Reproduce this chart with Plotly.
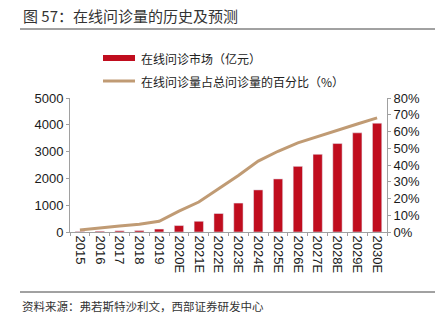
import plotly.graph_objects as go

categories = ["2015", "2016", "2017", "2018", "2019", "2020E", "2021E", "2022E",
              "2023E", "2024E", "2025E", "2026E", "2027E", "2028E", "2029E", "2030E"]
market_size = [20, 30, 45, 55, 110, 240, 400, 690, 1080, 1570, 1980, 2450, 2900, 3300, 3700, 4060]
online_share = [1.2, 2.6, 3.6, 4.6, 6.4, 12.5, 17.9, 25.8, 33.7, 42.3, 48.2, 53.2, 57.1, 60.7, 64.5, 68.1]
left_ticks = [0, 1000, 2000, 3000, 4000, 5000]
right_ticks = [0, 10, 20, 30, 40, 50, 60, 70, 80]
right_labels = [f"{v}%" for v in right_ticks]

bar_name = "在线问诊市场（亿元）"
line_name = "在线问诊量占总问诊量的百分比（%）"
title_text = "图 57：在线问诊量的历史及预测"
source_text = "资料来源：弗若斯特沙利文，西部证券研发中心"

RED = "#C00D1E"
TAN = "#C09B74"
AXIS = "#A0A0A0"
CJK = "Noto Sans CJK SC"
LAT = "Liberation Sans, Arial"

fig = go.Figure()
fig.add_trace(go.Bar(x=categories, y=market_size, name=bar_name, marker_color=RED,
                     width=0.47, yaxis="y", showlegend=False))
fig.add_trace(go.Scatter(x=categories, y=online_share, name=line_name, mode="lines",
                         line=dict(color=TAN, width=3), yaxis="y2", showlegend=False))

fig.update_layout(
    width=440, height=326,
    margin=dict(l=70, r=53, t=98, b=94),
    paper_bgcolor="white", plot_bgcolor="white",
    font=dict(family=LAT, size=13, color="#1a1a1a"),
    xaxis=dict(type="category", range=[-0.5, 15.5], tickangle=90, showline=True,
               linecolor=AXIS, linewidth=1, ticks="outside", tickson="boundaries",
               ticklen=3, tickcolor=AXIS, showgrid=False, tickfont=dict(size=13)),
    yaxis=dict(range=[0, 5000], tickvals=left_ticks, showline=True, linecolor=AXIS,
               ticks="outside", ticklen=3, tickcolor=AXIS, showgrid=False, zeroline=False),
    yaxis2=dict(range=[0, 80], tickvals=right_ticks, ticktext=right_labels, overlaying="y",
                side="right", showline=True, linecolor=AXIS, ticks="outside", ticklen=3,
                tickcolor=AXIS, showgrid=False, zeroline=False),
    bargap=0.5,
)

def px_x(x):
    return (x - 70) / 317

def px_y(y):
    return (232 - y) / 134

shapes = [
    dict(type="line", xref="paper", yref="paper", x0=px_x(20), x1=px_x(435),
         y0=px_y(29), y1=px_y(29), line=dict(color="#444", width=1)),
    dict(type="line", xref="paper", yref="paper", x0=px_x(20), x1=px_x(435),
         y0=px_y(292), y1=px_y(292), line=dict(color="#444", width=1)),
    dict(type="rect", xref="paper", yref="paper", x0=px_x(103), x1=px_x(135),
         y0=px_y(61), y1=px_y(55), fillcolor=RED, line=dict(width=0)),
    dict(type="line", xref="paper", yref="paper", x0=px_x(103), x1=px_x(135),
         y0=px_y(81), y1=px_y(81), line=dict(color=TAN, width=3)),
]
fig.update_layout(shapes=shapes)

annotations = [
    dict(text=title_text, x=px_x(21), y=px_y(15), xanchor="left", yanchor="middle",
         font=dict(family=CJK, size=15, color="#333")),
    dict(text=bar_name, x=px_x(139), y=px_y(58), xanchor="left", yanchor="middle",
         font=dict(family=CJK, size=12, color="#222")),
    dict(text=line_name, x=px_x(139), y=px_y(81), xanchor="left", yanchor="middle",
         font=dict(family=CJK, size=12, color="#222")),
    dict(text=source_text, x=px_x(20), y=px_y(306), xanchor="left", yanchor="middle",
         font=dict(family=CJK, size=11.5, color="#333")),
]
for a in annotations:
    a.update(xref="paper", yref="paper", showarrow=False)
fig.update_layout(annotations=annotations)

fig.write_html("out.html")
